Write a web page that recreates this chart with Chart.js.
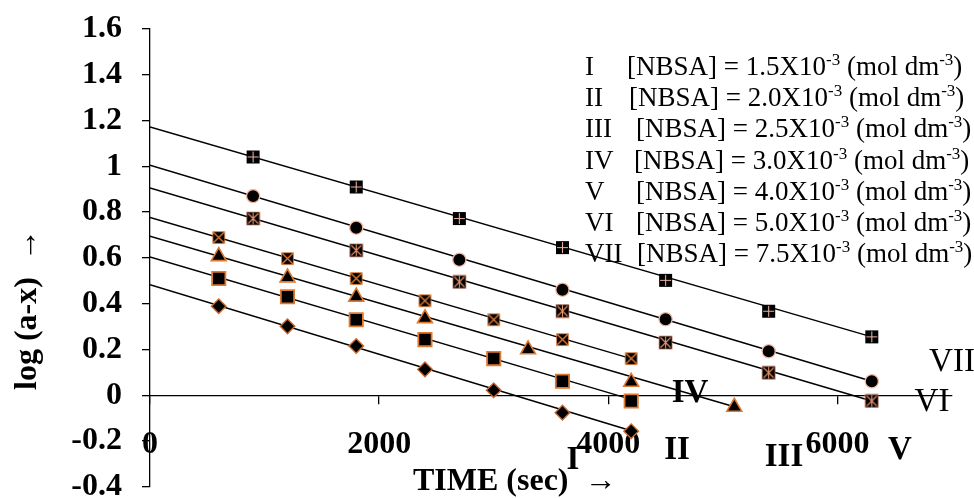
<!DOCTYPE html>
<html>
<head>
<meta charset="utf-8">
<script src="https://cdn.jsdelivr.net/npm/chart.js@4.4.0/dist/chart.umd.min.js"></script>
<style>
  html, body { margin: 0; padding: 0; background: #fff; }
  #wrap { width: 974px; height: 498px; }
</style>
</head>
<body>
<div id="wrap"><canvas id="c" width="974" height="498"></canvas></div>
<script>
// ---------------- data ----------------
const seriesNames = ['I', 'II', 'III', 'IV', 'V', 'VI', 'VII'];
const concentrations = ['1.5', '2.0', '2.5', '3.0', '4.0', '5.0', '7.5'];

const timeI   = [600, 1200, 1800, 2400, 3000, 3600, 4200];
const logI    = [0.389, 0.301, 0.215, 0.113, 0.022, -0.076, -0.157];
const timeII  = [600, 1200, 1800, 2400, 3000, 3600, 4200];
const logII   = [0.51, 0.43, 0.33, 0.243, 0.16, 0.061, -0.025];
const timeIII = [600, 1200, 1800, 2400, 3300, 4200, 5100];
const logIII  = [0.607, 0.514, 0.43, 0.336, 0.2, 0.058, -0.051];
const timeIV  = [600, 1200, 1800, 2400, 3000, 3600, 4200];
const logIV   = [0.689, 0.597, 0.51, 0.413, 0.33, 0.243, 0.16];
const timeV   = [900, 1800, 2700, 3600, 4500, 5400, 6300];
const logV    = [0.772, 0.633, 0.495, 0.368, 0.23, 0.098, -0.025];
const timeVI  = [900, 1800, 2700, 3600, 4500, 5400, 6300];
const logVI   = [0.870, 0.732, 0.592, 0.461, 0.332, 0.192, 0.061];
const timeVII = [900, 1800, 2700, 3600, 4500, 5400, 6300];
const logVII  = [1.041, 0.91, 0.772, 0.645, 0.502, 0.367, 0.255];

// trend lines: value at time 0 and at the end time
const trendStartLog = [0.483, 0.604, 0.695, 0.777, 0.905, 1.005, 1.172];
const trendEndTime  = [4200, 4200, 5100, 4200, 6300, 6300, 6300];
const trendEndLog   = [-0.155, -0.018, -0.05, 0.16, -0.025, 0.061, 0.255];

const xTickValues = [0, 2000, 4000, 6000];
const xTickLabels = ['0', '2000', '4000', '6000'];
const yTickValues = [-0.4, -0.2, 0, 0.2, 0.4, 0.6, 0.8, 1, 1.2, 1.4, 1.6];
const yTickLabels = ['-0.4', '-0.2', '0', '0.2', '0.4', '0.6', '0.8', '1', '1.2', '1.4', '1.6'];

const xTitle = 'TIME (sec)  \u2192';
const yTitle = 'log (a-x)  \u2192';

// ---------------- styling ----------------
const SERIF = '"Liberation Serif", "Times New Roman", Times, serif';
const ORANGE = '#E0782E';

function markerCanvas(kind) {
  const s = 15;
  const c = document.createElement('canvas');
  c.width = s; c.height = s;
  const g = c.getContext('2d');
  const m = s / 2;
  if (kind === 'xsq') {
    const h = 5.8;
    g.fillStyle = '#000';
    g.fillRect(m - h, m - h, 2 * h, 2 * h);
    g.strokeStyle = ORANGE; g.lineWidth = 1.4;
    g.beginPath();
    g.moveTo(m - h + 0.5, m - h + 0.5); g.lineTo(m + h - 0.5, m + h - 0.5);
    g.moveTo(m + h - 0.5, m - h + 0.5); g.lineTo(m - h + 0.5, m + h - 0.5);
    g.stroke();
    g.lineWidth = 0.8; g.strokeRect(m - h, m - h, 2 * h, 2 * h);
  } else if (kind === 'astsq') {
    const h = 6.5;
    g.fillStyle = '#000';
    g.fillRect(m - h, m - h, 2 * h, 2 * h);
    g.strokeStyle = '#E8946A'; g.lineWidth = 1.1;
    g.beginPath();
    g.moveTo(m, m - h + 0.5); g.lineTo(m, m + h - 0.5);
    g.moveTo(m - h + 1.5, m - h + 1.5); g.lineTo(m + h - 1.5, m + h - 1.5);
    g.moveTo(m + h - 1.5, m - h + 1.5); g.lineTo(m - h + 1.5, m + h - 1.5);
    g.stroke();
    g.lineWidth = 0.7; g.strokeStyle = '#D9866A'; g.strokeRect(m - h, m - h, 2 * h, 2 * h);
  } else if (kind === 'plussq') {
    const h = 6.5;
    g.fillStyle = '#000';
    g.fillRect(m - h, m - h, 2 * h, 2 * h);
    g.strokeStyle = '#E9B3A3'; g.lineWidth = 1.1;
    g.beginPath();
    g.moveTo(m, m - h + 1); g.lineTo(m, m + h - 1);
    g.moveTo(m - h + 1, m); g.lineTo(m + h - 1, m);
    g.stroke();
  }
  return c;
}

const seriesTimes = [timeI, timeII, timeIII, timeIV, timeV, timeVI, timeVII];
const seriesLogs  = [logI, logII, logIII, logIV, logV, logVI, logVII];
const markerStyles = [
  { pointStyle: 'rectRot', radius: 7.3, bg: '#000', border: '#C8682E', bw: 1.4 },
  { pointStyle: 'rect', radius: 9.4, bg: '#000', border: ORANGE, bw: 1.8 },
  { pointStyle: 'triangle', radius: 8.6, bg: '#000', border: ORANGE, bw: 1.6 },
  { pointStyle: markerCanvas('xsq'), radius: 7, bg: '#000', border: ORANGE, bw: 0 },
  { pointStyle: markerCanvas('astsq'), radius: 7, bg: '#000', border: ORANGE, bw: 0 },
  { pointStyle: 'circle', radius: 6.6, bg: '#000', border: '#F4B9A2', bw: 1.3 },
  { pointStyle: markerCanvas('plussq'), radius: 7, bg: '#000', border: ORANGE, bw: 0 }
];

const datasets = [];
// trend lines first (drawn beneath markers)
for (let i = 0; i < seriesNames.length; i++) {
  datasets.push({
    type: 'line',
    label: 'trend ' + seriesNames[i],
    data: [{ x: 0, y: trendStartLog[i] }, { x: trendEndTime[i], y: trendEndLog[i] }],
    borderColor: '#000',
    borderWidth: 1.5,
    pointRadius: 0,
    fill: false,
    tension: 0,
    order: 2
  });
}
for (let i = 0; i < seriesNames.length; i++) {
  const ms = markerStyles[i];
  datasets.push({
    type: 'scatter',
    label: seriesNames[i],
    data: seriesTimes[i].map((t, k) => ({ x: t, y: seriesLogs[i][k] })),
    showLine: false,
    pointStyle: ms.pointStyle,
    pointRadius: ms.radius,
    pointBackgroundColor: ms.bg,
    pointBorderColor: ms.border,
    pointBorderWidth: ms.bw,
    order: 1
  });
}

function drawSup(ctx, x, y, parts) {
  // parts: [text, isSup]
  let cx = x;
  for (const [txt, sup] of parts) {
    ctx.font = (sup ? '17px ' : '27px ') + SERIF;
    ctx.fillText(txt, cx, sup ? y - 10 : y);
    cx += ctx.measureText(txt).width;
  }
}

const legendRowStartX = [627, 629, 636, 634, 636, 636, 637];

const textPlugin = {
  id: 'texts',
  afterDraw(chart) {
    const ctx = chart.ctx;
    ctx.save();
    ctx.fillStyle = '#000';
    ctx.textBaseline = 'alphabetic';
    ctx.textAlign = 'left';
    // legend text box
    for (let i = 0; i < seriesNames.length; i++) {
      const by = 75 + 31.2 * i;
      ctx.font = '27px ' + SERIF;
      ctx.fillText(seriesNames[i], 585, by);
      drawSup(ctx, legendRowStartX[i], by, [
        ['[NBSA] = ' + concentrations[i] + 'X10', false],
        ['-3', true],
        [' (mol dm', false],
        ['-3', true],
        [')', false]
      ]);
    }
    // roman numeral annotations
    ctx.textAlign = 'center';
    ctx.textBaseline = 'middle';
    ctx.font = 'bold 33px ' + SERIF;
    ctx.fillText('IV', 690, 393);
    ctx.fillText('I', 573, 460);
    ctx.fillText('II', 677, 450);
    ctx.fillText('III', 784, 457);
    ctx.fillText('V', 900, 450);
    ctx.font = '33px ' + SERIF;
    ctx.fillText('VII', 952, 362);
    ctx.fillText('VI', 932, 402);
    // axis titles
    ctx.font = 'bold 32px ' + SERIF;
    ctx.textBaseline = 'alphabetic';
    ctx.textAlign = 'left';
    ctx.fillText(xTitle, 413, 490);
    ctx.save();
    ctx.translate(36, 390);
    ctx.rotate(-Math.PI / 2);
    ctx.fillText(yTitle, 0, 0);
    ctx.restore();
    ctx.restore();
  }
};

const tickFont = { family: SERIF, size: 32, weight: 'bold' };

new Chart(document.getElementById('c'), {
  data: { datasets },
  plugins: [textPlugin],
  options: {
    responsive: false,
    animation: false,
    events: [],
    layout: { padding: { left: 0, top: 29, right: 22, bottom: 11 } },
    plugins: { legend: { display: false }, tooltip: { enabled: false }, title: { display: false } },
    scales: {
      x: {
        type: 'linear',
        position: { y: 0 },
        min: 0, max: 7000,
        afterBuildTicks(s) { s.ticks = xTickValues.map(v => ({ value: v })); },
        afterFit(s) { s.paddingLeft = 0; s.paddingRight = 0; },
        ticks: {
          font: tickFont, color: '#000', padding: 22, maxRotation: 0, autoSkip: false,
          callback: (v, i) => xTickLabels[i]
        },
        grid: { drawOnChartArea: false, drawTicks: true, tickLength: 8, color: '#000', lineWidth: 1.3 },
        border: { display: true, color: '#000', width: 1.3 }
      },
      y: {
        type: 'linear',
        position: 'left',
        min: -0.4, max: 1.6,
        afterBuildTicks(s) { s.ticks = yTickValues.map(v => ({ value: v })); },
        afterFit(s) { s.width = 150; s.paddingTop = 0; s.paddingBottom = 0; },
        ticks: {
          font: tickFont, color: '#000', padding: 20, autoSkip: false,
          callback: (v, i) => yTickLabels[i]
        },
        grid: { drawOnChartArea: false, drawTicks: true, tickLength: 8, color: '#000', lineWidth: 1.3 },
        border: { display: true, color: '#000', width: 1.3 }
      }
    }
  }
});
</script>
</body>
</html>
